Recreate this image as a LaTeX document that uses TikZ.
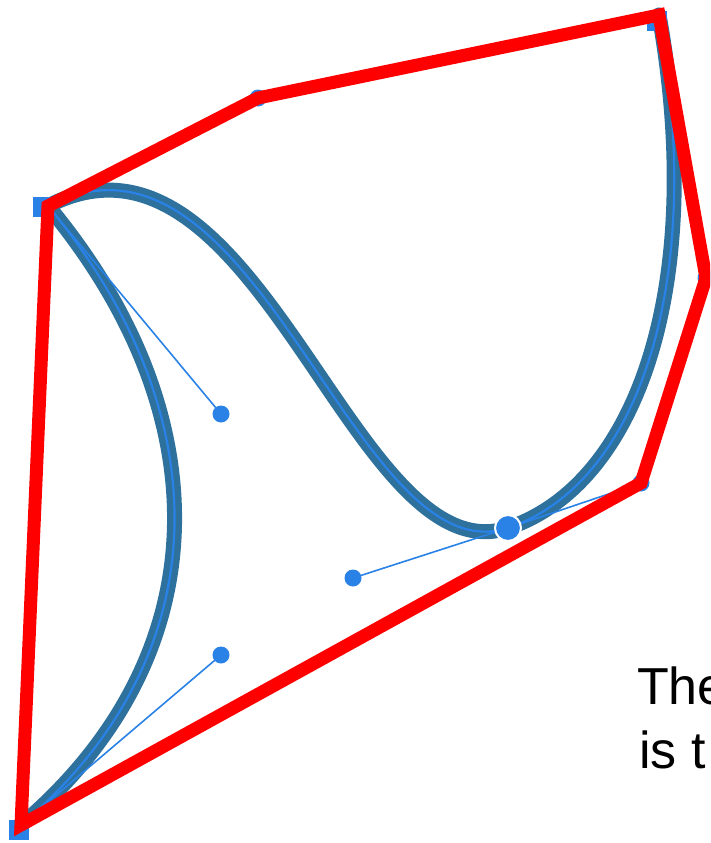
\documentclass[tikz,border=0pt]{standalone}
\usepackage{fontspec}
\setmainfont{Liberation Sans}
\usepackage{tikz}
\usetikzlibrary{calc}

\definecolor{pathteal}{HTML}{2D719C}
\definecolor{handleblue}{HTML}{2A82E6}
\definecolor{hullred}{HTML}{FF0000}

\begin{document}
\begin{tikzpicture}[x=1pt, y=-1pt,
    curveouter/.style={pathteal, line width=15pt, line cap=round},
    curveinner/.style={handleblue, line width=2.2pt, line cap=round},
    handle/.style={handleblue, line width=1.6pt},
    ctrldot/.style={handleblue, fill=handleblue},
    hull/.style={hullred, line width=13pt, line join=miter}]
  \useasboundingbox (0,0) rectangle (710,843);
  \clip (0,0) rectangle (710,843);
  % anchors and control points, in pixel units (y down)
  \coordinate (p0) at (21,825);
  \coordinate (c1) at (221,655);
  \coordinate (c2) at (221,414);
  \coordinate (p1) at (48,206);
  \coordinate (c3) at (258,98);
  \coordinate (c4) at (353,578);
  \coordinate (p2) at (508,528);
  \coordinate (c5) at (641,483);
  \coordinate (c6) at (706,278);
  \coordinate (p3) at (659,15);
  % the path itself
  \foreach \st in {curveouter, curveinner}
    { \draw[\st] (p0) .. controls (c1) and (c2) .. (p1)
        .. controls (c3) and (c4) .. (p2)
        .. controls (c5) and (c6) .. (p3); }
  % handles
  \draw[handle] (p0) -- (c1);
  \draw[handle] (p1) -- (c2);
  \draw[handle] (c4) -- (p2) -- (c5);
  \draw[handle] (p1) -- (c3);
  \draw[handle] (c6) -- (p3);
  \foreach \c in {c1, c2, c3, c4, c5, c6}
    { \fill[ctrldot] (\c) circle (8.5pt); }
  \filldraw[fill=handleblue, draw=white, line width=2pt] (p2) circle (13pt);
  % square anchors, drawn a little off the corners as in the screenshot
  \foreach \p/\dx/\dy in {p0/-2/5, p1/-5/1, p3/-2/6}
    { \fill[handleblue] ($(\p)+(\dx,\dy)+(-10,-10)$) rectangle ++(20,20); }
  % convex hull
  \draw[hull] (p0) -- (p1) -- (c3) -- (p3) -- (c6) -- (c5) -- cycle;
  % caption, cut by the right border
  \node[anchor=base west, inner sep=0pt, font=\fontsize{52}{62}\selectfont] (cap1) at (637,704) {The};
  \node[anchor=base west, inner sep=0pt, font=\fontsize{52}{62}\selectfont] (cap2) at (639,768) {is t};
\end{tikzpicture}
\end{document}
